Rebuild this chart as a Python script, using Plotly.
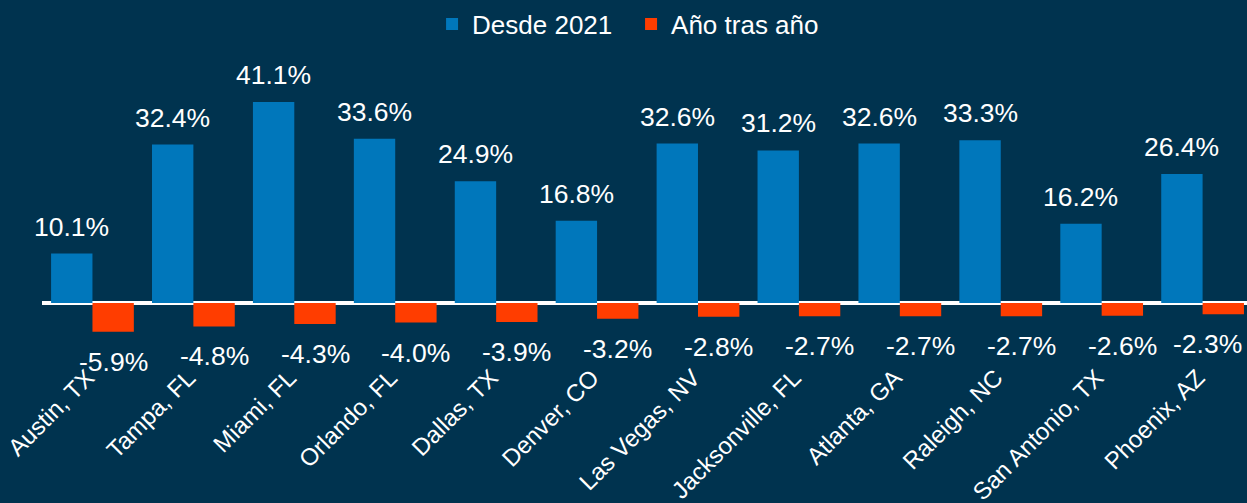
import plotly.graph_objects as go

cities = ["Austin, TX", "Tampa, FL", "Miami, FL", "Orlando, FL", "Dallas, TX", "Denver, CO",
          "Las Vegas, NV", "Jacksonville, FL", "Atlanta, GA", "Raleigh, NC", "San Antonio, TX", "Phoenix, AZ"]
since_2021 = [10.1, 32.4, 41.1, 33.6, 24.9, 16.8, 32.6, 31.2, 32.6, 33.3, 16.2, 26.4]
year_over_year = [-5.9, -4.8, -4.3, -4.0, -3.9, -3.2, -2.8, -2.7, -2.7, -2.7, -2.6, -2.3]

BG = "#00334F"
BLUE = "#0077BB"
ORANGE = "#FF3D00"
FONT = "Liberation Sans, Arial, sans-serif"

fig = go.Figure()
fig.add_trace(go.Bar(x=cities, y=since_2021, name="Desde 2021", marker_color=BLUE,
                     marker_line_width=0))
fig.add_trace(go.Bar(x=cities, y=year_over_year, name="Año tras año", marker_color=ORANGE,
                     marker_line_width=0))

annotations = []
for c, v in zip(cities, since_2021):
    annotations.append(dict(x=c, y=v, xref="x", yref="y", text=f"{v:.1f}%", showarrow=False,
                            xshift=-20.7, yshift=10, yanchor="bottom",
                            font=dict(family=FONT, size=26.5, color="white")))
for i, (c, v) in enumerate(zip(cities, year_over_year)):
    last = i == len(cities) - 1
    annotations.append(dict(x=c, y=v, xref="x", yref="y", text=f"{v:.1f}%", showarrow=False,
                            xshift=41 if last else 20.7, xanchor="right" if last else "center",
                            yshift=-13, yanchor="top",
                            font=dict(family=FONT, size=26.5, color="white")))

fig.update_layout(
    width=1247, height=503,
    margin=dict(l=42, r=0, t=40, b=145, autoexpand=False),
    paper_bgcolor=BG, plot_bgcolor=BG,
    barmode="group", bargap=0.18, bargroupgap=0,
    font=dict(family=FONT, size=26, color="white"),
    showlegend=True,
    legend=dict(orientation="h", x=0.3237, xanchor="left", yref="container", y=0.952,
                yanchor="middle", entrywidth=154, entrywidthmode="pixels",
                font=dict(family=FONT, size=26, color="white"), bgcolor="rgba(0,0,0,0)",
                itemwidth=30, tracegroupgap=0),
    annotations=annotations,
    xaxis=dict(range=[-0.5, 11.44], tickangle=-45, showgrid=False, showline=False,
               ticks="", tickfont=dict(family=FONT, size=24, color="white"),
               ticklabelshift=-5,
               automargin=False, layer="above traces"),
    yaxis=dict(range=[-11.25, 53.78], showgrid=False, showticklabels=False, ticks="",
               zeroline=True, zerolinecolor="white", zerolinewidth=4,
               automargin=False, layer="above traces"),
)

fig.write_html("out.html", config={"displayModeBar": False},
               post_script="document.body.style.margin='0';document.body.style.overflow='hidden';")
